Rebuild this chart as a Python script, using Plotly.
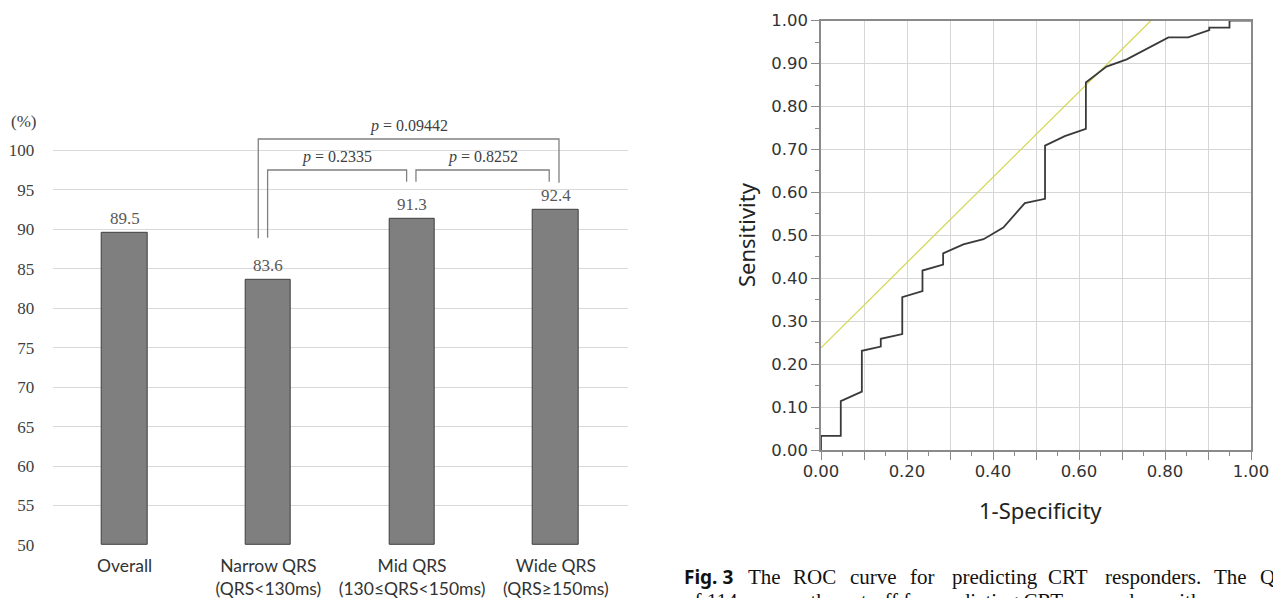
import plotly.graph_objects as go

W, H = 1273, 598

# ---------------- Bar chart data ----------------
categories = ["Overall", "Narrow QRS<br>(QRS&lt;130ms)", "Mid QRS<br>(130≤QRS&lt;150ms)", "Wide QRS<br>(QRS≥150ms)"]
response_rate = [89.5, 83.6, 91.3, 92.4]
y_ticks_bar = [50, 55, 60, 65, 70, 75, 80, 85, 90, 95, 100]

# comparison brackets (data units of the bar chart)
cmp_pvalues = ["0.2335", "0.8252", "0.09442"]
cmp_x0 = [0.995, 2.027, 0.930]
cmp_x1 = [1.962, 2.954, 3.022]
cmp_left_bottom = [88.93, 96.02, 88.85]
cmp_right_bottom = [96.02, 96.02, 95.9]
cmp_top = [97.5, 97.5, 101.43]
cmp_label_y = [99.2, 99.2, 103.1]

# ---------------- ROC data ----------------
roc_fpr = [0, 0, 0.046, 0.046, 0.095, 0.095, 0.139, 0.139, 0.189, 0.189, 0.236, 0.236,
           0.284, 0.284, 0.331, 0.378, 0.424, 0.474, 0.521, 0.521, 0.567, 0.616, 0.616,
           0.664, 0.711, 0.765, 0.808, 0.854, 0.903, 0.903, 0.950, 0.950, 1.0]
roc_tpr = [0, 0.033, 0.033, 0.114, 0.136, 0.231, 0.241, 0.259, 0.270, 0.356, 0.370, 0.418,
           0.432, 0.458, 0.479, 0.491, 0.518, 0.575, 0.585, 0.709, 0.731, 0.748, 0.856,
           0.893, 0.910, 0.939, 0.961, 0.961, 0.978, 0.984, 0.984, 1.0, 1.0]
ref_line_x = [0, 0.767]
ref_line_y = [0.238, 1.0]
roc_ticks = [round(i * 0.1, 2) for i in range(11)]

caption_words = [("The", 746), ("ROC", 791), ("curve", 848), ("for", 908), ("predicting", 950),
                 ("CRT", 1046), ("responders.", 1103), ("The", 1212), ("Q", 1258)]
caption_line2 = "of 114 ms was the cut-off for predicting CRT responders with"


def px_x(p):
    return p / W


def px_y(p):
    return 1 - p / H


fig = go.Figure()

# bars
fig.add_trace(go.Bar(
    x=list(range(len(categories))), y=[v - y_ticks_bar[0] for v in response_rate], base=y_ticks_bar[0],
    width=0.317, marker=dict(color="#7f7f7f", line=dict(color="#3f3f3f", width=1)),
    xaxis="x", yaxis="y", showlegend=False, hoverinfo="skip"))

# ROC curve
fig.add_trace(go.Scatter(x=ref_line_x, y=ref_line_y, mode="lines",
                         line=dict(color="#d6d85a", width=1.3), xaxis="x2", yaxis="y2",
                         showlegend=False, cliponaxis=False))
fig.add_trace(go.Scatter(x=roc_fpr, y=roc_tpr, mode="lines",
                         line=dict(color="#3a3a3a", width=1.8), xaxis="x2", yaxis="y2",
                         showlegend=False, cliponaxis=False))

annotations = []
shapes = []

# value labels
for i, v in enumerate(response_rate):
    annotations.append(dict(x=i, y=v, xref="x", yref="y", text=f"{v:.1f}", showarrow=False,
                            xanchor="center", yanchor="bottom", yshift=3,
                            font=dict(family="Liberation Serif", size=17, color="#595959")))

# brackets
for p, x0, x1, lb, rb, top, ly in zip(cmp_pvalues, cmp_x0, cmp_x1, cmp_left_bottom,
                                      cmp_right_bottom, cmp_top, cmp_label_y):
    shapes.append(dict(type="path", xref="x", yref="y",
                       path=f"M {x0},{lb} L {x0},{top} L {x1},{top} L {x1},{rb}",
                       line=dict(color="#808080", width=1.3)))
    annotations.append(dict(x=(x0 + x1) / 2, y=ly, xref="x", yref="y",
                            text=f"<i>p</i> = {p}", showarrow=False,
                            xanchor="center", yanchor="middle",
                            font=dict(family="Liberation Serif", size=16, color="#404040")))

# (%) label
annotations.append(dict(x=px_x(23), y=px_y(122), xref="paper", yref="paper", text="(%)",
                        xanchor="center", yanchor="middle", showarrow=False,
                        font=dict(family="Liberation Serif", size=17, color="#404040")))

# ROC axis titles
annotations.append(dict(x=px_x(746), y=px_y(235), xref="paper", yref="paper", text="Sensitivity",
                        textangle=-90, xanchor="center", yanchor="middle", showarrow=False,
                        font=dict(family="Noto Sans", size=22, color="#222222")))
annotations.append(dict(x=px_x(1040), y=px_y(510), xref="paper", yref="paper", text="1-Specificity",
                        xanchor="center", yanchor="middle", showarrow=False,
                        font=dict(family="Noto Sans", size=22, color="#222222")))

# caption
annotations.append(dict(x=px_x(682), y=px_y(577), xref="paper", yref="paper", text="<b>Fig. 3</b>",
                        xanchor="left", yanchor="middle", showarrow=False,
                        font=dict(family="Noto Sans", size=19, color="#111111")))
for w, xp in caption_words:
    annotations.append(dict(x=px_x(xp), y=px_y(577), xref="paper", yref="paper", text=w,
                            xanchor="left", yanchor="middle", showarrow=False,
                            font=dict(family="Liberation Serif", size=21, color="#111111")))
annotations.append(dict(x=px_x(682), y=px_y(601), xref="paper", yref="paper", text=caption_line2,
                        xanchor="left", yanchor="middle", showarrow=False,
                        font=dict(family="Liberation Serif", size=21, color="#111111")))

fig.update_layout(
    width=W, height=H, autosize=False,
    margin=dict(l=0, r=0, t=0, b=0, autoexpand=False),
    paper_bgcolor="white", plot_bgcolor="white",
    bargap=0,
    xaxis=dict(domain=[px_x(52.7), px_x(627.7)], range=[-0.5, 3.5], automargin=False,
               tickvals=list(range(len(categories))), ticktext=categories,
               showgrid=False, zeroline=False, showline=False,
               ticks="outside", ticklen=5, tickcolor="rgba(0,0,0,0)",
               tickfont=dict(family="Lato", size=17.5, color="#333333")),
    yaxis=dict(domain=[px_y(545), px_y(110.8)], range=[50, 105], automargin=False,
               tickvals=y_ticks_bar, showgrid=True, gridcolor="#d9d9d9", gridwidth=1,
               zeroline=False, showline=False,
               ticks="outside", ticklen=14, tickcolor="rgba(0,0,0,0)",
               tickfont=dict(family="Liberation Serif", size=17, color="#404040")),
    xaxis2=dict(domain=[px_x(821), px_x(1251)], range=[0, 1], anchor="y2", automargin=False,
                tickvals=roc_ticks,
                ticktext=[f"{t:.2f}" if round(t * 10) % 2 == 0 else "" for t in roc_ticks],
                showgrid=True, gridcolor="#d6d6d6", gridwidth=1.2,
                zeroline=False, showline=True, linecolor="#8a8a8a", linewidth=1.5, mirror=True,
                ticks="outside", ticklen=8, tickcolor="#8a8a8a", tickwidth=1.2,
                ticklabelstandoff=-3,
                minor=dict(dtick=0.05, ticks="outside", ticklen=4, tickcolor="#8a8a8a", showgrid=False),
                tickfont=dict(family="DejaVu Sans", size=16.5, color="#333333")),
    yaxis2=dict(domain=[px_y(450), px_y(20.7)], range=[0, 1], anchor="x2", automargin=False,
                tickvals=roc_ticks, tickformat=".2f",
                showgrid=True, gridcolor="#d6d6d6", gridwidth=1.2,
                zeroline=False, showline=True, linecolor="#8a8a8a", linewidth=1.5, mirror=True,
                ticks="outside", ticklen=8, tickcolor="#8a8a8a", tickwidth=1.2,
                minor=dict(dtick=0.05, ticks="outside", ticklen=4, tickcolor="#8a8a8a", showgrid=False),
                tickfont=dict(family="DejaVu Sans", size=16.5, color="#333333")),
    annotations=annotations,
    shapes=shapes,
)

fig.write_html("out.html", config={"displayModeBar": False},
               post_script="document.body.style.margin='0';document.body.style.overflow='hidden';")
